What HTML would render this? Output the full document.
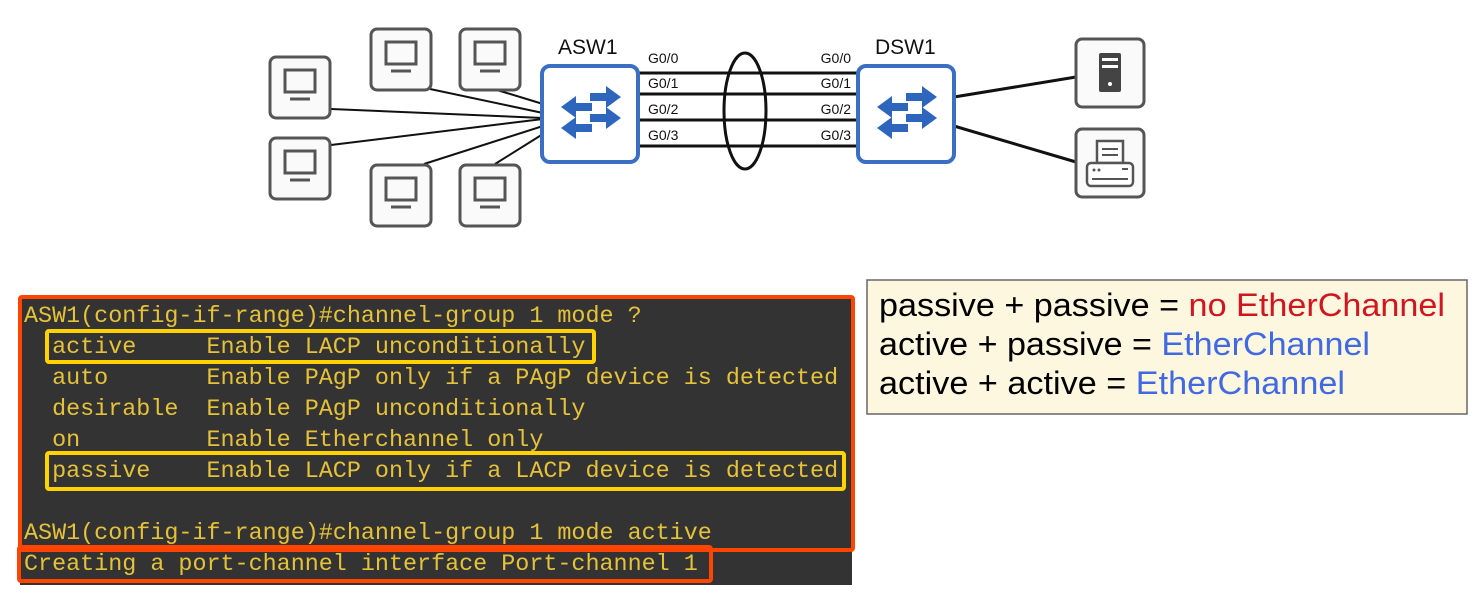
<!DOCTYPE html>
<html><head><meta charset="utf-8"><style>
html,body{margin:0;padding:0;background:#fff;}
svg{display:block;}
</style></head><body>
<svg width="1474" height="595" viewBox="0 0 1474 595" xmlns="http://www.w3.org/2000/svg">
<defs>
<g id="pc">
<rect x="0" y="0" width="60" height="61" rx="6" fill="#fafafa" stroke="#555" stroke-width="3"/>
<rect x="15" y="13" width="30" height="22" fill="none" stroke="#555" stroke-width="3"/>
<line x1="20" y1="42" x2="40" y2="42" stroke="#555" stroke-width="3"/>
</g>
<g id="sw">
<rect x="0" y="0" width="96" height="96" rx="8" fill="#fff" stroke="#3a6fc4" stroke-width="4"/>
<g fill="#2f66bd">
<path d="M48 27 h16 v-7 l15 11 l-15 11 v-7 h-16z"/>
<path d="M50 37 h-16 v-7 l-15 11 l15 11 v-7 h16z"/>
<path d="M48 48 h16 v-7 l15 11 l-15 11 v-7 h-16z"/>
<path d="M50 58 h-16 v-7 l-15 11 l15 11 v-7 h16z"/>
</g>
</g>
</defs>
<!-- PC links -->
<g stroke="#111" stroke-width="2">
<line x1="331" y1="109" x2="543" y2="118"/>
<line x1="331" y1="145" x2="543" y2="119"/>
<line x1="430" y1="89" x2="543" y2="113"/>
<line x1="497" y1="90" x2="543" y2="104"/>
<line x1="424" y1="164" x2="543" y2="126"/>
<line x1="495" y1="164" x2="543" y2="134"/>
</g>
<use href="#pc" x="270" y="57"/>
<use href="#pc" x="270" y="138"/>
<use href="#pc" x="371" y="29"/>
<use href="#pc" x="460" y="29"/>
<use href="#pc" x="371" y="165"/>
<use href="#pc" x="460" y="165"/>
<!-- switch links -->
<g stroke="#111" stroke-width="3">
<line x1="638" y1="73" x2="860" y2="73"/>
<line x1="638" y1="94" x2="860" y2="94"/>
<line x1="638" y1="120" x2="860" y2="120"/>
<line x1="638" y1="146" x2="860" y2="146"/>
<line x1="954" y1="97" x2="1076" y2="77"/>
<line x1="954" y1="126" x2="1076" y2="162"/>
</g>
<ellipse cx="745" cy="111" rx="21" ry="58" fill="none" stroke="#111" stroke-width="3"/>
<g font-family="Liberation Sans, sans-serif" font-size="14" fill="#111">
<text x="648" y="63">G0/0</text><text x="648" y="88">G0/1</text><text x="648" y="114">G0/2</text><text x="648" y="140">G0/3</text>
<text x="851" y="63" text-anchor="end">G0/0</text><text x="851" y="88" text-anchor="end">G0/1</text><text x="851" y="114" text-anchor="end">G0/2</text><text x="851" y="140" text-anchor="end">G0/3</text>
</g>
<use href="#sw" x="542" y="66"/>
<use href="#sw" x="858" y="66"/>
<g font-family="Liberation Sans, sans-serif" font-size="21" fill="#111">
<text x="558" y="54">ASW1</text><text x="875" y="54">DSW1</text>
</g>
<!-- server -->
<rect x="1076" y="39" width="68" height="68" rx="6" fill="#fafafa" stroke="#555" stroke-width="3"/>
<rect x="1099" y="53" width="22" height="39" rx="2" fill="#444"/>
<rect x="1102" y="58" width="16" height="3" fill="#fff"/><rect x="1102" y="65" width="16" height="3" fill="#fff"/>
<circle cx="1110" cy="84" r="2" fill="#fff"/>
<!-- printer -->
<rect x="1076" y="129" width="68" height="68" rx="6" fill="#fafafa" stroke="#555" stroke-width="3"/>
<rect x="1097" y="141" width="26" height="22" fill="#fff" stroke="#555" stroke-width="2.5"/>
<line x1="1102" y1="149" x2="1118" y2="149" stroke="#555" stroke-width="2"/><line x1="1102" y1="155" x2="1118" y2="155" stroke="#555" stroke-width="2"/>
<rect x="1087" y="163" width="46" height="23" rx="4" fill="#fff" stroke="#555" stroke-width="2.5"/>
<line x1="1092" y1="179" x2="1128" y2="179" stroke="#555" stroke-width="2"/>
<circle cx="1094" cy="170" r="1.5" fill="#555"/><circle cx="1099" cy="170" r="1.5" fill="#555"/>
<line x1="1122" y1="169" x2="1128" y2="169" stroke="#555" stroke-width="2"/>
<!-- terminal -->
<rect x="20" y="297" width="832" height="288" fill="#333"/>
<g font-family="Liberation Mono, monospace" font-size="23.4" fill="#e6c23a">
<text x="24" y="322">ASW1(config-if-range)#channel-group 1 mode ?</text>
<text x="24" y="353" xml:space="preserve">  active     Enable LACP unconditionally</text>
<text x="24" y="384" xml:space="preserve">  auto       Enable PAgP only if a PAgP device is detected</text>
<text x="24" y="415" xml:space="preserve">  desirable  Enable PAgP unconditionally</text>
<text x="24" y="446" xml:space="preserve">  on         Enable Etherchannel only</text>
<text x="24" y="477" xml:space="preserve">  passive    Enable LACP only if a LACP device is detected</text>
<text x="24" y="539">ASW1(config-if-range)#channel-group 1 mode active</text>
<text x="24" y="570">Creating a port-channel interface Port-channel 1</text>
</g>
<g fill="none" stroke="#ffd200" stroke-width="4">
<rect x="47" y="331" width="547" height="31" rx="2"/>
<rect x="47" y="453" width="797" height="36" rx="2"/>
</g>
<g fill="none" stroke="#ff4500" stroke-width="4">
<rect x="20" y="297" width="833" height="253" rx="2"/>
<rect x="19" y="547" width="692" height="34" rx="2"/>
</g>
<!-- legend -->
<rect x="867" y="280" width="600" height="134" fill="#fdf7e0" stroke="#666" stroke-width="1.5"/>
<g font-family="Liberation Sans, sans-serif" font-size="32" fill="#000">
<text x="879" y="316" textLength="566" lengthAdjust="spacingAndGlyphs">passive + passive = <tspan fill="#d0161e">no EtherChannel</tspan></text>
<text x="879" y="355" textLength="491" lengthAdjust="spacingAndGlyphs">active + passive = <tspan fill="#4169e1">EtherChannel</tspan></text>
<text x="879" y="394" textLength="466" lengthAdjust="spacingAndGlyphs">active + active = <tspan fill="#4169e1">EtherChannel</tspan></text>
</g>
</svg>
</body></html>
